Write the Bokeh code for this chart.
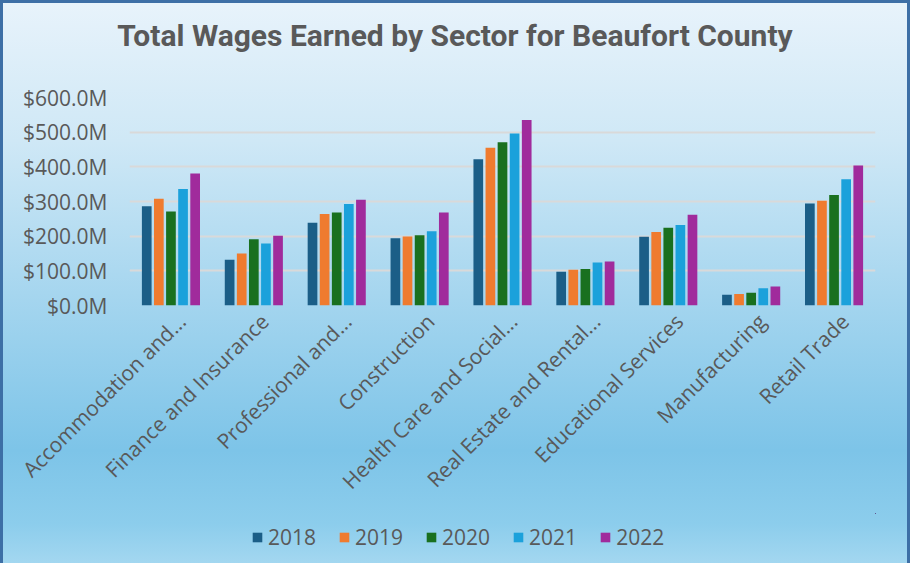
import math
from bokeh.plotting import figure
from bokeh.layouts import column
from bokeh.models import (ColumnDataSource, Range1d, FixedTicker, Div,
                          CustomJSTickFormatter, Legend, LegendItem)
from bokeh.transform import dodge
from bokeh.embed import file_html
from bokeh.resources import INLINE

# ---- data (millions of dollars) ----
sectors = ["Accommodation and...", "Finance and Insurance", "Professional and...",
           "Construction", "Health Care and Social...", "Real Estate and Rental...",
           "Educational Services", "Manufacturing", "Retail Trade"]
years = ["2018", "2019", "2020", "2021", "2022"]
wages_2018 = [286, 132, 239, 194, 422, 97, 198, 31, 294]
wages_2019 = [308, 150, 264, 199, 455, 103, 212, 33, 302]
wages_2020 = [271, 191, 268, 203, 471, 105, 224, 37, 319]
wages_2021 = [336, 179, 293, 214, 496, 124, 232, 50, 364]
wages_2022 = [381, 201, 305, 268, 535, 127, 262, 55, 404]
y_ticks = [0, 100, 200, 300, 400, 500, 600]
title_text = "Total Wages Earned by Sector for Beaufort County"

colors = ["#1b5e87", "#ef7b2f", "#19701f", "#1ba1db", "#a02b9c"]
text_color = "#595959"
grid_color = "#d9d9d9"
W = 900


def bare(fig):
    fig.border_fill_color = None
    fig.background_fill_color = None
    fig.outline_line_color = None


# ---------- title ----------
title = Div(text=title_text, width=W, height=70, styles={
    "font-family": "Roboto", "font-weight": "bold", "font-size": "30px",
    "color": text_color, "text-align": "center", "line-height": "62px",
})

# ---------- main chart ----------
n = len(sectors)
centers = [i + 0.5 for i in range(n)]   # category slot centres on the x scale
source = ColumnDataSource(data=dict(sector=sectors, center=centers,
                                    y2018=wages_2018, y2019=wages_2019,
                                    y2020=wages_2020, y2021=wages_2021, y2022=wages_2022))

p = figure(x_range=Range1d(0, n), y_range=Range1d(0, 600),
           width=W, height=433, output_backend="svg", toolbar_location=None,
           min_border_left=129, min_border_right=25, min_border_top=17,
           min_border_bottom=208)
bare(p)

offsets = [-0.292, -0.146, 0.0, 0.146, 0.292]
for yr, off, col in zip(years, offsets, colors):
    p.vbar(x=dodge("center", off), top="y" + yr, width=0.117,
           source=source, fill_color=col, line_color=None)

p.xgrid.grid_line_color = None
p.ygrid.grid_line_color = grid_color
p.ygrid.grid_line_width = 2

p.yaxis.ticker = FixedTicker(ticks=y_ticks)
p.yaxis.formatter = CustomJSTickFormatter(code="return '$' + tick.toFixed(1) + 'M';")
p.yaxis.axis_line_color = None
p.yaxis.major_tick_line_color = None
p.yaxis.minor_tick_line_color = None
p.yaxis.major_label_text_font = "Open Sans"
p.yaxis.major_label_text_font_size = "21px"
p.yaxis.major_label_text_color = text_color
p.yaxis.major_label_standoff = 16

# category labels sit slightly right of each slot centre, as in the original
label_shift = 0.13
p.xaxis.ticker = FixedTicker(ticks=[c + label_shift for c in centers])
p.xaxis.formatter = CustomJSTickFormatter(args=dict(names=sectors),
                                          code="return names[index];")
p.xaxis.axis_line_color = None
p.xaxis.major_tick_line_color = None
p.xaxis.minor_tick_line_color = None
p.xaxis.major_label_orientation = math.pi / 4
p.xaxis.major_label_text_font = "Open Sans"
p.xaxis.major_label_text_font_size = "21px"
p.xaxis.major_label_text_color = text_color
p.xaxis.major_label_standoff = 6

# ---------- legend strip (frame aligned with the chart's frame) ----------
# the same bars are drawn here but fall far outside this strip's ranges, so
# only the legend is visible
pl = figure(width=W, height=50, output_backend="svg", toolbar_location=None,
            x_range=Range1d(-1000, -991), y_range=Range1d(-10000, -9999), min_border=0)
bare(pl)
pl.axis.visible = False
pl.grid.visible = False
items = []
for yr, off, col in zip(years, offsets, colors):
    rr = pl.vbar(x=dodge("center", off), top="y" + yr, width=0.117,
                 source=source, fill_color=col, line_color=None)
    items.append(LegendItem(label=yr, renderers=[rr]))
legend = Legend(items=items, orientation="horizontal", location=(122, 12),
                glyph_width=12, glyph_height=12, label_standoff=5, spacing=22,
                label_text_font="Open Sans", label_text_font_size="21px",
                label_text_color=text_color, background_fill_alpha=0,
                border_line_color=None, margin=0, padding=0)
pl.add_layout(legend, "center")

layout = column(title, p, pl, spacing=0, styles={
    "background-image": "linear-gradient(to bottom, #e8f3fb 0%, #cfe8f6 25%, #a6d6ef 52%, #7dc4e8 80%, #8ccdec 93%, #a3d7f0 100%)",
    "box-shadow": "inset 3px 3px 0 #3d6fa6, inset -3px 0 0 #3d6fa6",
})

open("out.html", "w").write(file_html(layout, INLINE))
